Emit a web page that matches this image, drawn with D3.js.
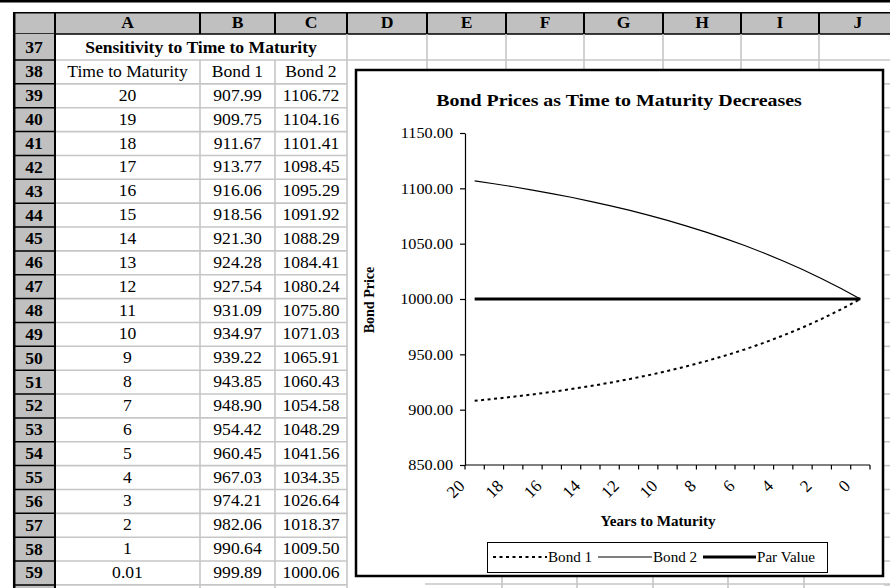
<!DOCTYPE html>
<html>
<head>
<meta charset="utf-8">
<script src="https://cdn.jsdelivr.net/npm/d3@7"></script>
<style>
  html, body { margin: 0; padding: 0; background: #fff; }
  svg { display: block; }
  text { font-family: 'Liberation Serif', 'Times New Roman', serif; fill: #000; }
</style>
</head>
<body>
<svg id="sheet" width="890" height="588"></svg>
<script>
// ---- worksheet content ----
const rowNumbers = d3.range(37, 60);
const columnLetters = ["A", "B", "C", "D", "E", "F", "G", "H", "I", "J"];
const tableTitle = "Sensitivity to Time to Maturity";
const tableHeaders = ["Time to Maturity", "Bond 1", "Bond 2"];

// ---- series ----
const maturity = [20, 19, 18, 17, 16, 15, 14, 13, 12, 11, 10, 9, 8, 7, 6, 5, 4, 3, 2, 1, 0.01];
const bond1 = [907.99, 909.75, 911.67, 913.77, 916.06, 918.56, 921.30, 924.28, 927.54, 931.09,
               934.97, 939.22, 943.85, 948.90, 954.42, 960.45, 967.03, 974.21, 982.06, 990.64, 999.89];
const bond2 = [1106.72, 1104.16, 1101.41, 1098.45, 1095.29, 1091.92, 1088.29, 1084.41, 1080.24, 1075.80,
               1071.03, 1065.91, 1060.43, 1054.58, 1048.29, 1041.56, 1034.35, 1026.64, 1018.37, 1009.50, 1000.06];
const parValue = maturity.map(() => 1000);
const priceTicks = [850, 900, 950, 1000, 1050, 1100, 1150];
const seriesNames = ["Bond 1", "Bond 2", "Par Value"];
const chartTitle = "Bond Prices as Time to Maturity Decreases";
const xTitle = "Years to Maturity";
const yTitle = "Bond Price";

// ---- drawing ----
const svg = d3.select("#sheet");
const GRID = "#c6c6c6";
const HEAD = "#c0c0c0";

function label(g, x, y, str, o) {
  let t = `translate(${x},${y})`;
  if (o.rotate) t += ` rotate(${o.rotate})`;
  t += ` scale(${o.sx || 1},1)`;
  return g.append("text")
    .attr("transform", t)
    .attr("text-anchor", o.anchor || "middle")
    .style("font-size", o.size + "px")
    .style("font-weight", o.bold ? "bold" : "normal")
    .text(str);
}
function line(g, x1, y1, x2, y2, color, w) {
  return g.append("line").attr("x1", x1).attr("y1", y1).attr("x2", x2).attr("y2", y2)
    .attr("stroke", color).attr("stroke-width", w);
}

// sheet layout
const colEdges = [55, 200, 275, 347, 427, 506, 584, 663, 741, 819, 897];
const headTop = 12, headBottom = 34, row37Bottom = 60, rowH = 23.86;
const rowTop = r => r === 37 ? headBottom : row37Bottom + (r - 38) * rowH;
const rowBottom = r => r === 37 ? row37Bottom : row37Bottom + (r - 37) * rowH;
const colMid = i => (colEdges[i] + colEdges[i + 1]) / 2;

const sheet = svg.append("g");
const TSX = 1.1, TFS = 16;

// top rule
sheet.append("rect").attr("x", 0).attr("y", 0).attr("width", 890).attr("height", 2.5).attr("fill", "#000");

// column header band
sheet.append("rect").attr("x", 13).attr("y", headTop).attr("width", 890 - 13).attr("height", headBottom - headTop).attr("fill", HEAD);
line(sheet, 13, headTop + 0.75, 890, headTop + 0.75, "#000", 1.5);
line(sheet, 13, headBottom, 890, headBottom, "#000", 1.5);
colEdges.forEach(x => line(sheet, x, headTop, x, headBottom, "#000", 2));
columnLetters.forEach((c, i) => label(sheet, colMid(i), headBottom - 6, c, { size: TFS, bold: true, sx: TSX }));

// row header column
sheet.append("rect").attr("x", 13).attr("y", headBottom).attr("width", 42).attr("height", 588 - headBottom).attr("fill", HEAD);
rowNumbers.forEach(r => {
  line(sheet, 13, rowBottom(r), 55, rowBottom(r), "#000", 1.5);
  label(sheet, 34, (rowTop(r) + rowBottom(r)) / 2 + 5.5, String(r), { size: TFS, bold: true, sx: TSX });
});
line(sheet, 14.2, headTop, 14.2, 588, "#000", 2.5);
line(sheet, 55, headTop, 55, 588, "#000", 2);

// cell gridlines, columns A..C
rowNumbers.forEach(r => line(sheet, 56, rowBottom(r), 347, rowBottom(r), GRID, 1.6));
[200, 275].forEach(x => line(sheet, x, row37Bottom, x, 588, GRID, 1.6));
line(sheet, 347, headBottom, 347, 588, GRID, 1.6);

// cell gridlines above the chart, columns D..J
line(sheet, 347, row37Bottom, 890, row37Bottom, GRID, 1.6);
colEdges.slice(4, 10).forEach(x => line(sheet, x, headBottom, x, 72, GRID, 1.6));

// table text
label(sheet, (colEdges[0] + colEdges[3]) / 2, 52.5, tableTitle, { size: TFS, bold: true, sx: TSX });
tableHeaders.forEach((h, i) => label(sheet, colMid(i), rowTop(38) + 17, h, { size: TFS, sx: TSX }));
maturity.forEach((m, k) => {
  const yy = rowTop(39 + k) + 17;
  label(sheet, colMid(0), yy, String(m), { size: TFS, sx: TSX });
  label(sheet, colMid(1), yy, bond1[k].toFixed(2), { size: TFS, sx: TSX });
  label(sheet, colMid(2), yy, bond2[k].toFixed(2), { size: TFS, sx: TSX });
});

// cells peeking out to the right of and below the chart
rowNumbers.filter(r => rowBottom(r) > 78).forEach(r => line(sheet, 884, rowBottom(r), 890, rowBottom(r), GRID, 1.6));
line(sheet, 425, 584, 890, 584, GRID, 1.6);
[502, 577, 653, 728, 804].forEach(x => line(sheet, x, 577, x, 588, GRID, 1.6));

// ---- chart ----
const chart = svg.append("g");
chart.append("rect").attr("x", 356).attr("y", 70).attr("width", 527).attr("height", 506)
  .attr("fill", "#fff").attr("stroke", "#000").attr("stroke-width", 2.5);

const CSX = 1.16;
label(chart, 619, 106, chartTitle, { size: 17, bold: true, sx: 1.17 });

const plot = { left: 465, right: 870, top: 133, bottom: 465 };
const x = d3.scaleBand().domain(maturity).range([plot.left, plot.right]);
const cx = d => x(d) + x.bandwidth() / 2;
const y = d3.scaleLinear().domain([850, 1150]).range([plot.bottom, plot.top]);

// y axis
const yAxis = chart.append("g").attr("transform", `translate(${plot.left},0)`)
  .call(d3.axisLeft(y).tickValues(priceTicks).tickFormat(d3.format(".2f")).tickSize(5).tickSizeOuter(0));
yAxis.select(".domain").attr("stroke", "#000").attr("stroke-width", 1.2);
yAxis.selectAll(".tick line").attr("stroke", "#000").attr("stroke-width", 1.2);
yAxis.selectAll(".tick text")
  .attr("x", -12 / CSX).attr("dy", "0.35em")
  .attr("transform", `scale(${CSX},1)`)
  .style("font-family", "'Liberation Serif','Times New Roman',serif")
  .style("font-size", "14px").attr("fill", "#000");

// x axis: category ticks sit between categories
const xAxis = chart.append("g");
line(xAxis, plot.left, plot.bottom, plot.right, plot.bottom, "#000", 1.2);
maturity.map(d => x(d)).concat([plot.right]).forEach(px => line(xAxis, px, plot.bottom, px, plot.bottom + 4.5, "#000", 1.2));
const xFmt = d3.format(".0f");
maturity.filter((d, i) => i % 2 === 0).forEach(d =>
  label(xAxis, cx(d) - 9, plot.bottom + 22, xFmt(d), { size: 17, anchor: "end", rotate: -45 }));

// axis titles
label(chart, 658, 526, xTitle, { size: 14, bold: true, sx: 1.08 });
label(chart, 374, 300, yTitle, { size: 14, bold: true, rotate: -90 });

// series
const path = vals => d3.line().x((v, i) => cx(maturity[i])).y(v => y(v))(vals);
chart.append("path").attr("d", path(parValue)).attr("fill", "none").attr("stroke", "#000").attr("stroke-width", 3);
chart.append("path").attr("d", path(bond2)).attr("fill", "none").attr("stroke", "#000").attr("stroke-width", 1.2);
chart.append("path").attr("d", path(bond1)).attr("fill", "none").attr("stroke", "#000").attr("stroke-width", 2)
  .attr("stroke-dasharray", "3,3.5");

// legend
const legend = chart.append("g");
legend.append("rect").attr("x", 487.5).attr("y", 542.5).attr("width", 340).attr("height", 30)
  .attr("fill", "#fff").attr("stroke", "#000").attr("stroke-width", 1);
const legendItems = [
  { name: seriesNames[0], x0: 493, x1: 547, w: 2, dash: "3,3.5" },
  { name: seriesNames[1], x0: 598, x1: 652, w: 1.2, dash: null },
  { name: seriesNames[2], x0: 703, x1: 756, w: 3, dash: null }
];
legendItems.forEach(it => {
  const l = line(legend, it.x0, 557, it.x1, 557, "#000", it.w);
  if (it.dash) l.attr("stroke-dasharray", it.dash);
  label(legend, it.x1 + 1, 562, it.name, { size: 14, anchor: "start", sx: 1.08 });
});
</script>
</body>
</html>
